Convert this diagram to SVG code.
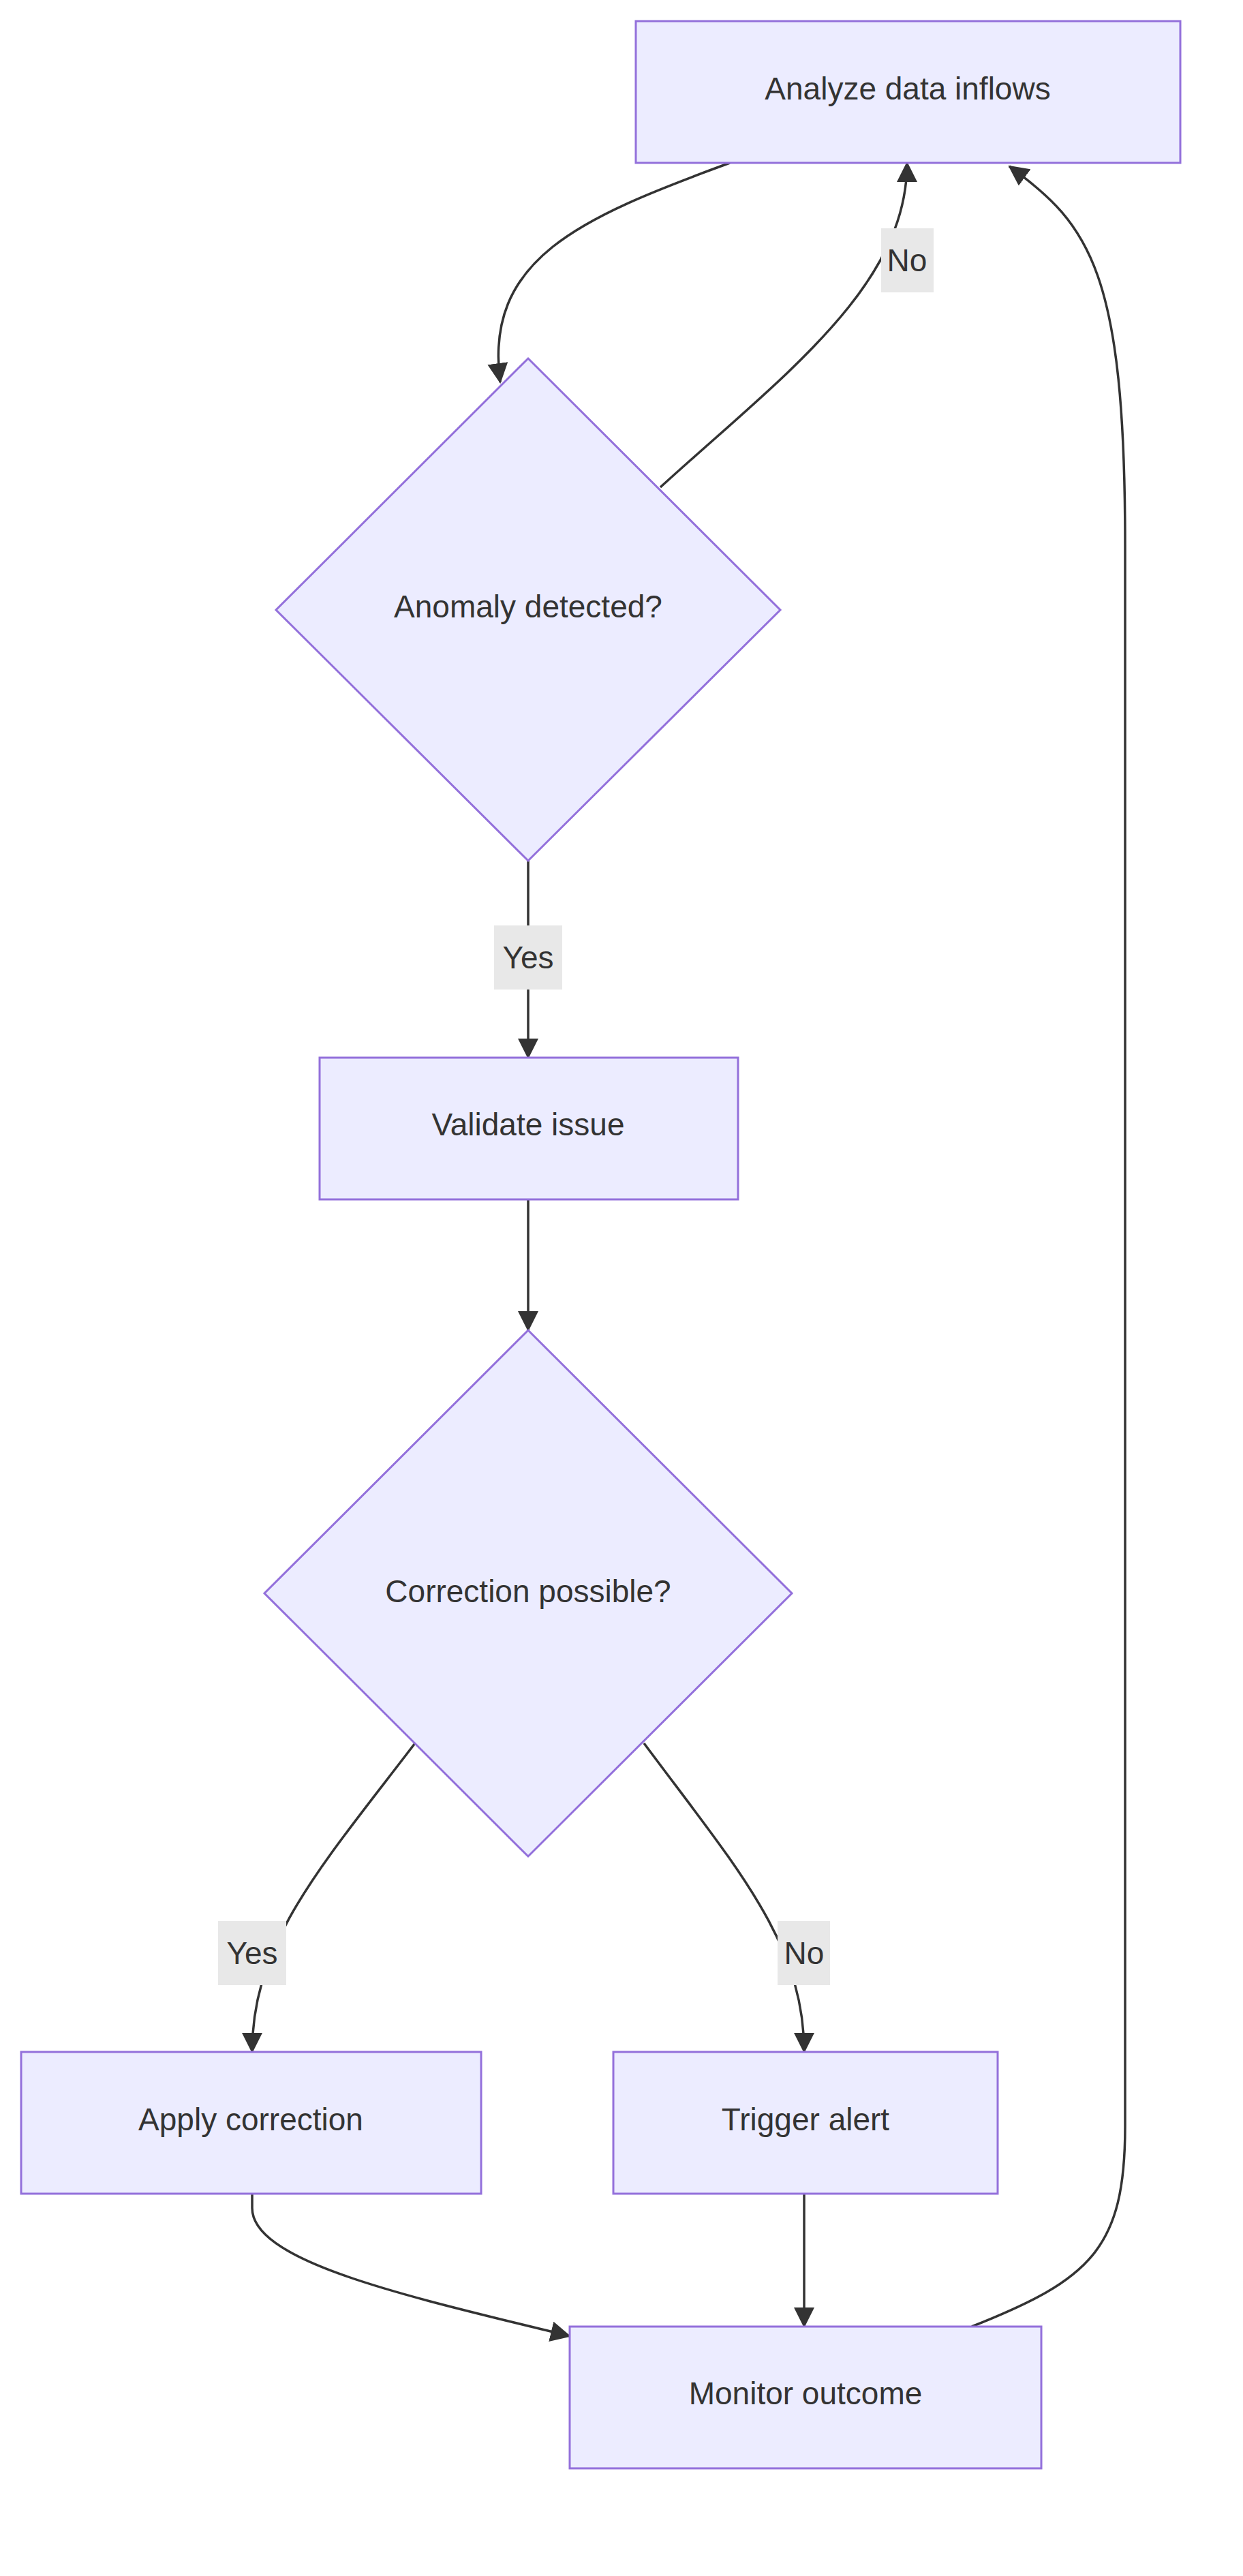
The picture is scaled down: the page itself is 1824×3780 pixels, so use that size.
<svg xmlns="http://www.w3.org/2000/svg" width="1824" height="3780" viewBox="0 0 1824 3780">
<style>
.n{fill:#ECECFF;stroke:#9370DB;stroke-width:3}
.t{font-family:"Liberation Sans",Arial,sans-serif;font-size:46px;fill:#333;text-anchor:middle;dominant-baseline:central}
.e{fill:none;stroke:#333;stroke-width:3.5}
.lb{fill:#e8e8e8}
</style>
<defs>
<marker id="a" markerUnits="userSpaceOnUse" markerWidth="30" markerHeight="30" refX="28" refY="15" orient="auto">
<path d="M0,0 L30,15 L0,30 z" fill="#333"/>
</marker>
</defs>
<rect width="1824" height="3780" fill="#fff"/>
<g id="edges">
<path class="e" d="M1071,239 C850,320 710,380 734,561" marker-end="url(#a)"/>
<path class="e" d="M969,715 C1150,550 1331,420 1331,239" marker-end="url(#a)"/>
<path class="e" d="M775,1263 L775,1552" marker-end="url(#a)"/>
<path class="e" d="M775,1760 L775,1952" marker-end="url(#a)"/>
<path class="e" d="M609,2558 C470,2740 370,2850 370,3011" marker-end="url(#a)"/>
<path class="e" d="M945,2558 C1080,2740 1180,2850 1180,3011" marker-end="url(#a)"/>
<path class="e" d="M370,3219 L370,3240 C370,3320 600,3370 836,3428" marker-end="url(#a)"/>
<path class="e" d="M1180,3219 L1180,3414" marker-end="url(#a)"/>
<path class="e" d="M1426,3414 C1600,3345 1651,3300 1651,3120 L1651,800 C1651,400 1600,330 1481,244" marker-end="url(#a)"/>
</g>
<g id="labels">
<rect class="lb" x="1293" y="335" width="77" height="94"/><text class="t" x="1331" y="382">No</text>
<rect class="lb" x="725" y="1358" width="100" height="94"/><text class="t" x="775" y="1405">Yes</text>
<rect class="lb" x="320" y="2819" width="100" height="94"/><text class="t" x="370" y="2866">Yes</text>
<rect class="lb" x="1141" y="2819" width="77" height="94"/><text class="t" x="1180" y="2866">No</text>
</g>
<g id="analyze"><rect class="n" x="933" y="31" width="799" height="208"/><text class="t" x="1332" y="130">Analyze data inflows</text></g>
<g id="anomaly"><polygon class="n" points="775,526 1145,895 775,1263 405,895"/><text class="t" x="775" y="890">Anomaly detected?</text></g>
<g id="validate"><rect class="n" x="469" y="1552" width="614" height="208"/><text class="t" x="775" y="1650">Validate issue</text></g>
<g id="possible"><polygon class="n" points="775,1952 1162,2338 775,2724 388,2338"/><text class="t" x="775" y="2335">Correction possible?</text></g>
<g id="apply"><rect class="n" x="31" y="3011" width="675" height="208"/><text class="t" x="368" y="3110">Apply correction</text></g>
<g id="trigger"><rect class="n" x="900" y="3011" width="564" height="208"/><text class="t" x="1182" y="3110">Trigger alert</text></g>
<g id="monitor"><rect class="n" x="836" y="3414" width="692" height="208"/><text class="t" x="1182" y="3512">Monitor outcome</text></g>
</svg>
